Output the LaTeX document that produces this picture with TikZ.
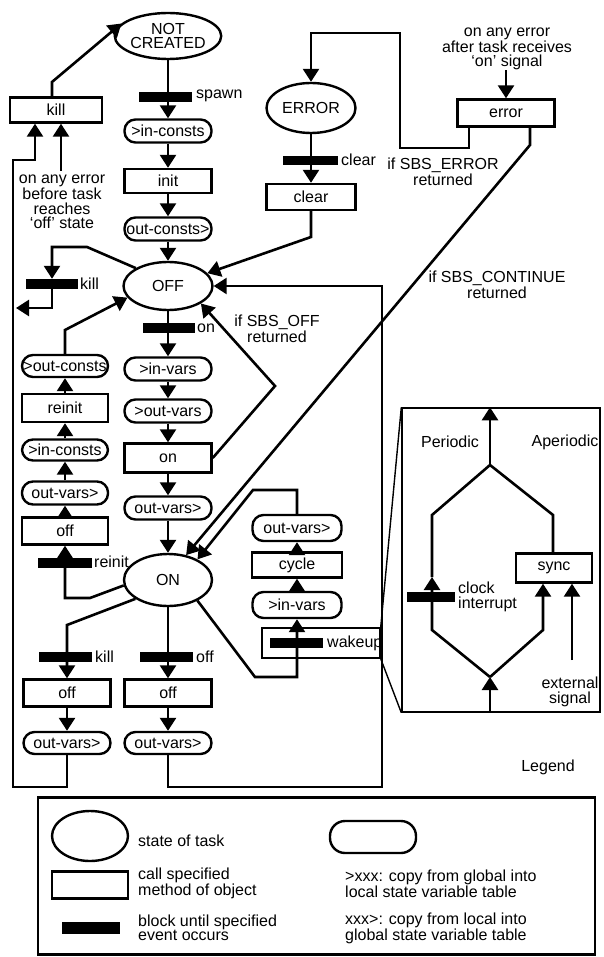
\documentclass[tikz,border=0pt]{standalone}
\usepackage{fontspec}
\setmainfont{Liberation Sans}
\usetikzlibrary{arrows.meta,shapes.geometric}
\begin{document}
\begin{tikzpicture}[x=1pt,y=-1pt,
  font=\fontsize{16}{14.5}\selectfont,
  state/.style={ellipse,draw,line width=2.4pt,inner sep=0pt,align=center},
  meth/.style={rectangle,draw,line width=2.4pt,inner sep=0pt,minimum width=87pt,minimum height=26pt},
  copy/.style={rectangle,rounded corners=11pt,draw,line width=2.4pt,inner sep=0pt,minimum width=87pt,minimum height=23pt},
  blk/.style={rectangle,fill=black,inner sep=0pt,minimum width=53pt,minimum height=10pt},
  lbl/.style={inner sep=0pt,anchor=west},
  note/.style={inner sep=0pt,align=center},
  conn/.style={line width=2.6pt},
  arr/.style={conn,-{Triangle[width=16pt,length=13pt]}},
  thin/.style={line width=1.4pt},
]
\useasboundingbox (0,0) rectangle (603,957);

% ---- main column
\node[state,minimum width=88pt,minimum height=46pt] (nc) at (168,36) {NOT\\CREATED};
\node[blk] (spawnbar) at (165,97) {};
\node[lbl] at (196,96) {spawn};
\node[copy] (inconsts) at (168,131) {>in-consts};
\node[meth,minimum height=24pt] (init) at (168,181) {init};
\node[copy] (outconsts) at (168,229) {out-consts>};
\node[state,minimum width=89pt,minimum height=48pt] (off) at (168,286) {OFF};
\node[blk,minimum width=52pt] (onbar) at (169,328) {};
\node[lbl] at (197,328) {on};
\node[copy] (invars) at (168,369) {>in-vars};
\node[copy] (outvars) at (168,411) {>out-vars};
\node[meth,minimum height=29pt] (onbox) at (168,458) {on};
\node[copy] (outvarsB) at (168,508) {out-vars>};
\node[state,minimum width=88pt,minimum height=52pt] (onst) at (168,580) {ON};
\node[blk] (offbar) at (166,657) {};
\node[lbl] at (196,657) {off};
\node[meth,minimum height=27pt] (offM) at (168,693) {off};
\node[copy,minimum height=22pt] (outvarsM) at (168,743) {out-vars>};

% ---- left column
\node[meth,minimum width=92pt,minimum height=25pt] (kill) at (56,110) {kill};
\node[note] (errnote1) at (62,202) {on any error\\before task\\reaches\\‘off’ state};
\node[blk,minimum width=52pt] (killbar) at (52,284) {};
\node[lbl] at (80,284) {kill};
\node[copy,minimum width=86pt,minimum height=22pt] (outconstsL) at (65,366) {>out-consts};
\node[meth,minimum width=86pt,minimum height=28pt] (reinit) at (65,408) {reinit};
\node[copy,minimum width=86pt,minimum height=21pt] (inconstsL) at (65,450) {>in-consts};
\node[copy,minimum width=86pt] (outvarsL) at (65,493) {out-vars>};
\node[meth,minimum width=86pt,minimum height=27pt] (offL) at (65,531) {off};
\node[blk,minimum width=54pt] (reinitbar) at (65,563) {};
\node[lbl] at (94,562) {reinit};

% ---- lower left
\node[blk] (killbar2) at (65,657) {};
\node[lbl] at (95,657) {kill};
\node[meth,minimum height=27pt] (offL2) at (67,693) {off};
\node[copy,minimum height=22pt] (outvarsL2) at (67,743) {out-vars>};

% ---- error part
\node[state,minimum width=89pt,minimum height=50pt] (err) at (311,108) {ERROR};
\node[blk,minimum width=55pt,minimum height=9pt] (clearbar) at (310,161) {};
\node[lbl] at (341,160) {clear};
\node[meth,minimum width=89pt] (clear) at (311,197) {clear};
\node[meth,minimum width=97pt,minimum height=27pt] (errbox) at (506,113) {error};
\node[note] (errnote2) at (507,49) {on any error\\after task receives\\‘on’ signal};
\node[note] at (443,172) {if SBS\_ERROR\\returned};
\node[note] at (497,285) {if SBS\_CONTINUE\\returned};
\node[note] at (277,329) {if SBS\_OFF\\returned};

% ---- right mini column
\node[copy,minimum width=89pt,minimum height=26pt] (outvarsR) at (297,528) {out-vars>};
\node[meth,minimum width=90pt,minimum height=25pt] (cycle) at (297,565) {cycle};
\node[copy,minimum width=89pt,minimum height=26pt] (invarsR) at (297,605) {>in-vars};
\node[rectangle,draw,thin,minimum width=118pt,minimum height=30pt,inner sep=0pt] (wake) at (321,643) {};
\node[blk] (wakebar) at (296,643) {};
\node[lbl] at (327,643) {wakeup};

% ---- inset
\node[rectangle,draw,thin,minimum width=198pt,minimum height=304pt,inner sep=0pt] (inset) at (501,560) {};
\node at (450,442) {Periodic};
\node at (565,442) {Aperiodic};
\node[meth,minimum width=76pt,minimum height=29pt] (sync) at (554,568) {sync};
\node[blk,minimum width=48pt] (clockbar) at (431,597) {};
\node[lbl,align=left] at (458,597) {clock\\interrupt};
\node[note] (extsig) at (570,692) {external\\signal};
\node at (548,767) {Legend};

% ---- legend
\node[rectangle,draw,line width=2.4pt,minimum width=557pt,minimum height=157pt,inner sep=0pt] (legend) at (316.5,876) {};
\node[state,minimum width=76pt,minimum height=50pt] (lgst) at (90,836) {};
\node[meth,minimum width=76pt,minimum height=27pt] (lgm) at (90,885) {};
\node[blk,minimum width=58pt,minimum height=12pt] (lgb) at (91,928) {};
\node[copy,minimum width=86pt,minimum height=32pt,rounded corners=15pt] (lgc) at (373,837) {};
\node[lbl] at (138,841) {state of task};
\node[lbl,align=left] at (138,883) {call specified\\method of object};
\node[lbl,align=left] at (138,928) {block until specified\\event occurs};
\node[lbl,align=left] at (345,884) {>xxx: copy from global into\\local state variable table};
\node[lbl,align=left] at (345,928) {xxx>: copy from local into\\global state variable table};

% ---- coordinates
\coordinate (r1) at (168,787);
\coordinate (r2) at (382,787);
\coordinate (r3) at (382,286);
\coordinate (k1) at (87,247);
\coordinate (k2) at (52,247);
\coordinate (k3) at (52,308);
\coordinate (killout) at (16,308);
\coordinate (lc) at (65,330);
\coordinate (re1) at (90,598);
\coordinate (re2) at (65,598);
\coordinate (ll1) at (67,625);
\coordinate (b1) at (67,787);
\coordinate (b2) at (13,787);
\coordinate (b3) at (13,160);
\coordinate (b4) at (35,160);
\coordinate (kn) at (52,82);
\coordinate (c1) at (311,237);
\coordinate (e1) at (469,148);
\coordinate (e2) at (400,148);
\coordinate (e3) at (400,33);
\coordinate (e4) at (311,33);
\coordinate (e5) at (530,145);
\coordinate (so) at (275,386);
\coordinate (w1) at (255,677);
\coordinate (w2) at (297,677);
\coordinate (cy1) at (297,490);
\coordinate (cy2) at (253,490);
\coordinate (T) at (490,465);
\coordinate (UL) at (432,515);
\coordinate (LL) at (432,630);
\coordinate (B) at (490,677);
\coordinate (UR) at (553,515);
\coordinate (LR) at (543,630);
\coordinate (ca) at (432,577);
\coordinate (es) at (572,660);

% ---- main connectors
\draw[arr] (nc.south) -- (inconsts.north);
\draw[arr] (inconsts.south) -- (init.north);
\draw[arr] (init.south) -- (outconsts.north);
\draw[arr] (outconsts.south) -- (off.north);
\draw[arr] (off.south) -- (invars.north);
\draw[arr] (invars.south) -- (outvars.north);
\draw[arr] (outvars.south) -- (onbox.north);
\draw[arr] (onbox.south) -- (outvarsB.north);
\draw[arr] (outvarsB.south) -- (onst.north);
\draw[arr] (onst.south) -- (offM.north);
\draw[arr] (offM.south) -- (outvarsM.north);
\draw[arr] (outvarsM.south) -- (r1) -- (r2) -- (r3) -- (off.east);

% kill from OFF
\draw[arr] (off.151) -- (k1) -- (k2) -- (k2 |- killbar.north);
\draw[arr] (k2 |- killbar.north) -- (k3) -- (killout);

% left column
\draw[arr] (outconstsL.north) -- (lc) -- (off.196);
\draw[arr] (reinit.north) -- (outconstsL.south);
\draw[arr] (inconstsL.north) -- (reinit.south);
\draw[arr] (outvarsL.north) -- (inconstsL.south);
\draw[arr] (offL.north) -- (outvarsL.south);
\draw[arr] (onst.187) -- (re1) -- (re2) -- (offL.south);

% lower left
\draw[arr] (onst.210) -- (ll1) -- (offL2.north);
\draw[arr] (offL2.south) -- (outvarsL2.north);
\draw[arr] (outvarsL2.south) -- (b1) -- (b2) -- (b3) -- (b4) -- (35,0 |- kill.south);
\draw[arr] ([yshift=4pt]errnote1.north -| 61,0) -- (61,0 |- kill.south);
\draw[arr] (52,0 |- kill.north) -- (kn) -- (nc.165);

% error part
\draw[arr] (err.south) -- (clear.north);
\draw[arr] (clear.south) -- (c1) -- (off.18);
\draw[arr] (errnote2.south -| errbox.north) -- (errbox.north);
\draw[arr] (469,0 |- errbox.south) -- (e1) -- (e2) -- (e3) -- (e4) -- (err.north);
\draw[arr] (530,0 |- errbox.south) -- (e5) -- (onst.54);
\draw[arr] (onbox.east) -- (so) -- (off.-28);

% wakeup loop
\draw[arr] (onst.-35) -- (w1) -- (w2) -- (invarsR.south);
\draw[arr] (invarsR.north) -- (cycle.south);
\draw[arr] (cycle.north) -- (outvarsR.south);
\draw[arr] (outvarsR.north) -- (cy1) -- (cy2) -- (onst.35);

% magnifier lines
\draw[thin] (wake.north east) -- (inset.north west);
\draw[thin] (wake.south east) -- (inset.south west);

% inset internals
\draw[arr] (490,0 |- inset.south) -- (B);
\draw[arr] (B) -- (LL) -- (ca);
\draw[conn] (ca) -- (UL) -- (T) -- (UR) -- (UR |- sync.north);
\draw[arr] (T) -- (490,0 |- inset.north);
\draw[arr] (B) -- (LR) -- (LR |- sync.south);
\draw[arr] (es) -- (es |- sync.south);
\end{tikzpicture}
\end{document}
